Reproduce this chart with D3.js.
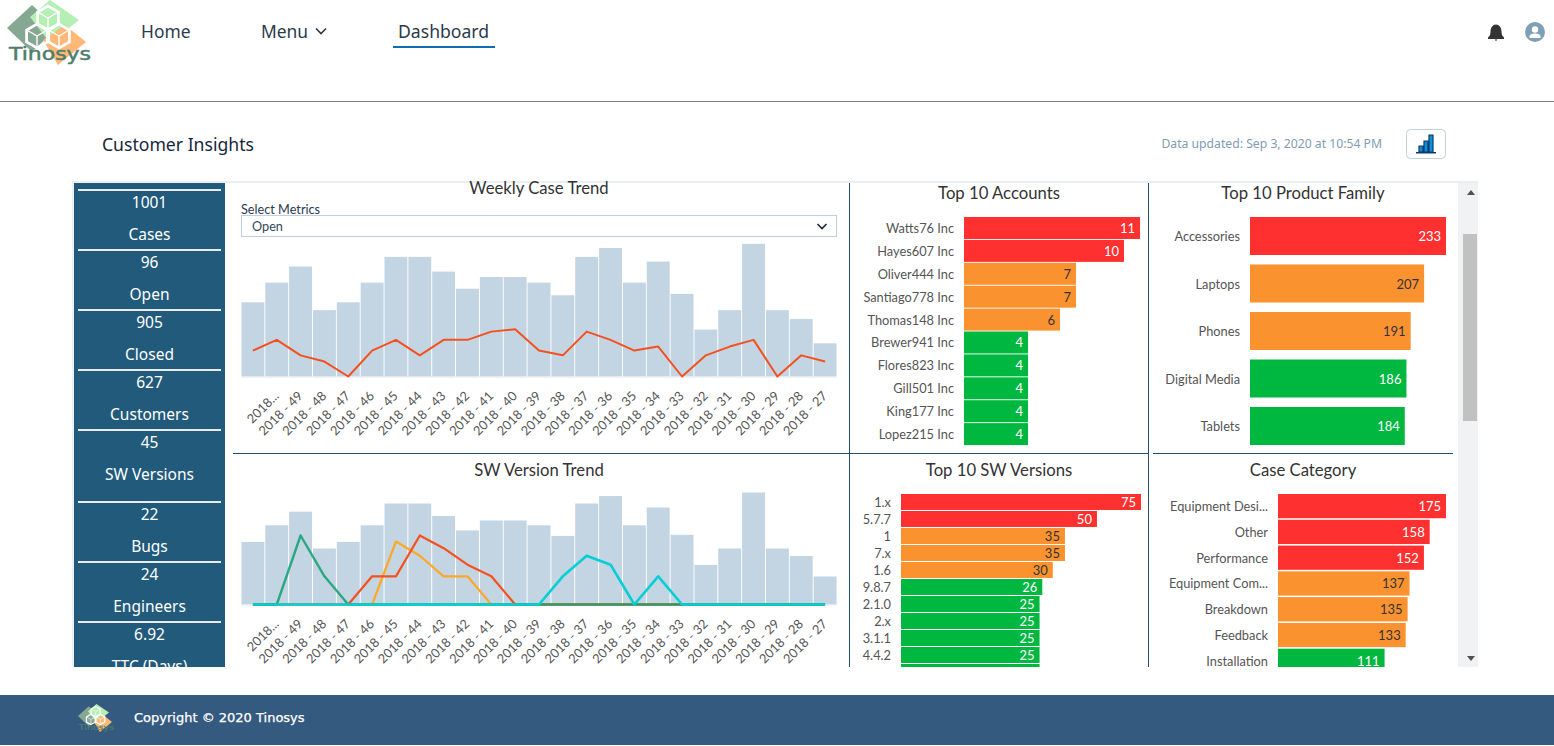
<!DOCTYPE html>
<html><head><meta charset="utf-8">
<style>
html,body{margin:0;padding:0;background:#fff;overflow:hidden}
svg{display:block}
text{font-family:Lato,"Open Sans",sans-serif}
.ui{font-family:"Noto Sans","Open Sans",sans-serif}
</style>
<script src="https://cdn.jsdelivr.net/npm/d3@7/dist/d3.min.js"></script>
</head><body>
<svg id="page" width="1554" height="746"></svg>
<script>
// ---- data ----
const weekLabels = ["","2018...","2018 - 49","2018 - 48","2018 - 47","2018 - 46","2018 - 45","2018 - 44","2018 - 43","2018 - 42","2018 - 41","2018 - 40","2018 - 39","2018 - 38","2018 - 37","2018 - 36","2018 - 35","2018 - 34","2018 - 33","2018 - 32","2018 - 31","2018 - 30","2018 - 29","2018 - 28","2018 - 27"];
const weekBars = [25,40,55,20,25,40,65,65,50,35,45,45,40,30,65,75,40,60,31,10,20,80,20,15,5];
const openLine = [3,6,2,1,0,3,6,2,6,6,9,10,3,2,9,6,3,4,0,2,4,6,0,2,1];
const swRed    = [0,0,0,0,0,1,1,6,4,2,1,0,0,0,0,0,0,0,0,0,0,0,0,0,0];
const swOrange = [0,0,0,0,0,0,5,3,1,1,0,0,0,0,0,0,0,0,0,0,0,0,0,0,0];
const swGreen  = [0,0,6,1,0,0,0,0,0,0,0,0,0,0,0,0,0,0,0,0,0,0,0,0,0];
const swCyan   = [0,0,0,0,0,0,0,0,0,0,0,0,0,1,3,2,0,1,0,0,0,0,0,0,0];
const accountNames = ["Watts76 Inc","Hayes607 Inc","Oliver444 Inc","Santiago778 Inc","Thomas148 Inc","Brewer941 Inc","Flores823 Inc","Gill501 Inc","King177 Inc","Lopez215 Inc"];
const accountValues = [11,10,7,7,6,4,4,4,4,4];
const familyNames = ["Accessories","Laptops","Phones","Digital Media","Tablets"];
const familyValues = [233,207,191,186,184];
const versionNames = ["1.x","5.7.7","1","7.x","1.6","9.8.7","2.1.0","2.x","3.1.1","4.4.2",""];
const versionValues = [75,50,35,35,30,26,25,25,25,25,25];
const categoryNames = ["Equipment Desi...","Other","Performance","Equipment Com...","Breakdown","Feedback","Installation"];
const categoryValues = [175,158,152,137,135,133,111];
const kpiValues = ["1001","96","905","627","45","22","24","6.92"];
const kpiLabels = ["Cases","Open","Closed","Customers","SW Versions","Bugs","Engineers","TTC (Days)"];

const RED="#ff3030", ORANGE="#fb9230", GREEN="#00b83f", BAR="#c3d4e3", NAVY="#215a7b", RULE="#22506e";
const svg = d3.select("#page");
const defs = svg.append("defs");
defs.append("clipPath").attr("id","panel").append("rect")
  .attr("x",72).attr("y",181).attr("width",1406).attr("height",486);

// ---- logo ----
const logo = defs.append("g").attr("id","logo");
[["#86a893","7,28 32,5 57,28 32,52"],["#b4efb4","30,17 50,0 79,20 50,43"],["#ffb877","43,40 65,25 86,42 58,65"]]
 .forEach(([c,p])=>logo.append("polygon").attr("points",p).attr("fill",c));
[[48,18],[37,36],[59,36]].forEach(([x,y])=>{
  const r=12, pts=d3.range(6).map(i=>{const a=Math.PI/3*i+Math.PI/6;return [x+r*Math.cos(a),y+r*Math.sin(a)].join(",")}).join(" ");
  logo.append("polygon").attr("points",pts).attr("fill","none").attr("stroke","#fff").attr("stroke-width",2.800);
  logo.append("path").attr("d",`M${x-r*.85},${y-r*.5}L${x},${y}L${x+r*.85},${y-r*.5}M${x},${y}V${y+r}`).attr("fill","none").attr("stroke","#fff").attr("stroke-width",1.400);
});
logo.append("text").attr("x",9).attr("y",60).attr("fill","#4e7d6c").attr("stroke","#4e7d6c").attr("stroke-width",.5).attr("font-size",18)
  .attr("textLength",82).attr("lengthAdjust","spacingAndGlyphs").style("font-family","'DejaVu Sans',sans-serif").text("Tinosys");
svg.append("use").attr("href","#logo");

// ---- header ----
function ui(x,y,t,size,fill,anchor){return svg.append("text").attr("class","ui").attr("x",x).attr("y",y).attr("font-size",size).attr("fill",fill).attr("text-anchor",anchor||"start").attr("dominant-baseline","central").text(t);}
ui(141,30.500,"Home",17.400,"#2b3a4a");
ui(261,30.500,"Menu",17.400,"#2b3a4a");
svg.append("path").attr("d","M316,28.500l5,5l5,-5").attr("fill","none").attr("stroke","#2b3a4a").attr("stroke-width",1.600);
ui(398,30.500,"Dashboard",17.600,"#2b3a4a");
svg.append("rect").attr("x",393).attr("y",46).attr("width",102).attr("height",2).attr("fill","#0b6fae");
svg.append("path").attr("fill","#333").attr("d","M1488,37.500c2,-1.500 2.500,-3 2.500,-6c0,-4 2.500,-7 5.500,-7s5.500,3 5.500,7c0,3 .5,4.500 2.500,6v1.500h-16zM1494.500,39.500h3l-1.500,1.500z");
svg.append("circle").attr("cx",1535).attr("cy",32).attr("r",10).attr("fill","#7f9fb6");
svg.append("circle").attr("cx",1535).attr("cy",29.500).attr("r",3.200).attr("fill","#fff");
svg.append("path").attr("d","M1529.500,38v-1.500c0,-2 2,-3 5.500,-3s5.500,1 5.500,3v1.500z").attr("fill","#fff");
svg.append("rect").attr("x",0).attr("y",101).attr("width",1554).attr("height",1).attr("fill","#808080");
ui(102,143.500,"Customer Insights",17.600,"#16273a");
ui(1382,143.500,"Data updated: Sep 3, 2020 at 10:54 PM",12.200,"#7f9cb3","end");
svg.append("rect").attr("x",1406.500).attr("y",129.500).attr("width",39).attr("height",29).attr("rx",4).attr("fill","#fff").attr("stroke","#bfd0df");
svg.append("path").attr("d","M1419,146h4v6h-4zM1424,141h4v11h-4zM1429,135h4v17h-4z").attr("fill","#0f8fd6").attr("stroke","#0b3a6e").attr("stroke-width",1.200);
svg.append("rect").attr("x",1416).attr("y",152).attr("width",20).attr("height",1.500).attr("fill","#0b3a6e");

// ---- dashboard frame ----
svg.append("rect").attr("x",72).attr("y",181).attr("width",1406).attr("height",2).attr("fill","#e9eef3");
svg.append("rect").attr("x",72).attr("y",181).attr("width",2).attr("height",486).attr("fill","#eef2f6");
svg.append("rect").attr("x",1458).attr("y",183).attr("width",20).attr("height",484).attr("fill","#f1f2f3");
svg.append("rect").attr("x",1463).attr("y",234).attr("width",14).attr("height",187).attr("fill","#c1c1c1");
svg.append("path").attr("d","M1467,195l4,-5l4,5z").attr("fill","#505050");
svg.append("path").attr("d","M1467,656l4,5l4,-5z").attr("fill","#505050");

const root = svg.append("g").attr("clip-path","url(#panel)");

// ---- KPI column ----
root.append("rect").attr("x",74).attr("y",183).attr("width",151).attr("height",484).attr("fill",NAVY);
const kpiY = d3.scaleOrdinal().domain(d3.range(8)).range([190,250,310,370,430,502,562,622]);
const kpi = root.selectAll("g.kpi").data(kpiValues).join("g").attr("class","kpi");
kpi.append("rect").attr("x",78).attr("width",143).attr("height",2).attr("y",(d,i)=>kpiY(i)-1).attr("fill","#e6edf2");
kpi.append("text").attr("class","ui").attr("x",149.500).attr("y",(d,i)=>kpiY(i)+11.500).attr("text-anchor","middle").attr("dominant-baseline","central").attr("font-size",15.500).attr("fill","#fff").text(d=>d);
kpi.append("text").attr("class","ui").attr("x",149.500).attr("y",(d,i)=>kpiY(i)+43.500).attr("text-anchor","middle").attr("dominant-baseline","central").attr("font-size",15.500).attr("fill","#fff").text((d,i)=>kpiLabels[i]);

// ---- dividers ----
[[849,183,1,484],[1148,183,1,484],[233,453,916,1],[1153,453,300,1]].forEach(([x,y,w,h])=>
  root.append("rect").attr("x",x).attr("y",y).attr("width",w).attr("height",h).attr("fill",RULE));

function title(x,y,t){root.append("text").attr("x",x).attr("y",y).attr("text-anchor","middle").attr("dominant-baseline","central").attr("font-size",16.700).attr("fill","#333").text(t);}
title(539,187.500,"Weekly Case Trend");
title(539,470,"SW Version Trend");
title(999,193,"Top 10 Accounts");
title(1303,193,"Top 10 Product Family");
title(999,470,"Top 10 SW Versions");
title(1303,470,"Case Category");

// ---- select ----
root.append("text").attr("x",241).attr("y",208.500).attr("dominant-baseline","central").attr("font-size",12.700).attr("fill","#2b3a55").text("Select Metrics");
root.append("rect").attr("x",241.500).attr("y",215.500).attr("width",595).attr("height",21).attr("fill","#fff").attr("stroke","#bcd0de");
root.append("text").attr("x",252).attr("y",226).attr("dominant-baseline","central").attr("font-size",12.700).attr("fill","#33475b").text("Open");
root.append("path").attr("d","M817.500,224l4.500,4.500l4.500,-4.500").attr("fill","none").attr("stroke","#16273a").attr("stroke-width",1.600);

// ---- trend charts ----
const bandX = d3.scaleBand().domain(d3.range(weekBars.length)).range([241,837]).paddingInner(0.04).paddingOuter(0.02);
const pointX = i => bandX(i)+bandX.bandwidth()/2;

function trend(baseY, barH, lineH, lineMax, labelGap, lineSeries){
  const yBar = d3.scaleSqrt().domain([0,d3.max(weekBars)]).range([baseY,baseY-barH]);
  const yLine = d3.scaleSqrt().domain([0,lineMax]).range([baseY,baseY-lineH]);
  const g = root.append("g");
  g.selectAll("rect").data(weekBars).join("rect")
    .attr("x",(d,i)=>bandX(i)).attr("width",bandX.bandwidth())
    .attr("y",d=>yBar(d)).attr("height",d=>baseY-yBar(d)).attr("fill",BAR);
  g.append("rect").attr("x",241).attr("y",baseY).attr("width",596).attr("height",1).attr("fill","#e3ebf2");
  const axis = d3.axisBottom(bandX).tickSize(0).tickFormat(i=>weekLabels[i]);
  const ax = g.append("g").attr("transform",`translate(0,${baseY+labelGap})`).call(axis);
  ax.select(".domain").remove();
  ax.selectAll("text").attr("transform","rotate(-45)").attr("text-anchor","end").attr("x",0).attr("y",4).attr("dy",0)
    .attr("font-size",12.800).attr("fill","#555").style("font-family","Lato,sans-serif");
  const line = d3.line().x((d,i)=>pointX(i)).y(d=>yLine(d));
  lineSeries.forEach(s=>{
    g.append("path").datum(s.values).attr("d",line).attr("fill","none").attr("stroke",s.color)
      .attr("stroke-width",s.width).attr("stroke-opacity",s.opacity||1).attr("stroke-linejoin","round");
  });
}
trend(376.500,132.700,47.300,10,17.500,[{values:openLine,color:"#f4511e",width:2}]);
trend(604.500,112,69,6,17.500,[
  {values:swOrange,color:"#ffa726",width:2.200},
  {values:swRed,color:"#f4511e",width:2.200},
  {values:swGreen,color:"#10a070",width:2.400,opacity:.85},
  {values:swCyan,color:"#00cfd5",width:2.600}
]);

// ---- horizontal bar panels ----
function colourFor(i,cuts){return i<cuts[0]?RED:i<cuts[1]?ORANGE:GREEN;}
function hbars(names,values,opts){
  const x = (opts.sqrt?d3.scaleSqrt():d3.scaleLinear()).domain([0,opts.max]).range([opts.x0,opts.x1]);
  const y = d3.scaleBand().domain(d3.range(names.length))
    .range([opts.y0,opts.y0+opts.step*(names.length-opts.gap)]).paddingInner(opts.gap);
  const g = root.append("g");
  const row = g.selectAll("g").data(values).join("g");
  row.append("rect").attr("x",opts.x0).attr("y",(d,i)=>y(i)).attr("height",y.bandwidth()).attr("width",d=>x(d)-opts.x0)
    .attr("fill",(d,i)=>colourFor(i,opts.cuts));
  row.append("text").attr("x",d=>x(d)-5).attr("y",(d,i)=>y(i)+y.bandwidth()/2).attr("text-anchor","end").attr("dominant-baseline","central")
    .attr("font-size",13).attr("fill",(d,i)=>i>=opts.cuts[0]&&i<opts.cuts[1]?"#333":"#fff").text(d=>d);
  row.append("text").attr("x",opts.x0-10).attr("y",(d,i)=>y(i)+y.bandwidth()/2).attr("text-anchor","end").attr("dominant-baseline","central")
    .attr("font-size",12.800).attr("fill","#555").text((d,i)=>names[i]);
}
hbars(accountNames,accountValues,{max:11,x0:964,x1:1140,y0:217,step:22.9,gap:0.04,cuts:[2,5]});
hbars(familyNames,familyValues,{max:233,x0:1250,x1:1446,y0:217,step:47.5,gap:0.2,cuts:[1,3]});
hbars(versionNames,versionValues,{sqrt:true,max:75,x0:901,x1:1141,y0:494,step:17,gap:0.06,cuts:[2,5]});
hbars(categoryNames,categoryValues,{max:175,x0:1278,x1:1446,y0:494,step:25.78,gap:0.06,cuts:[3,6]});

// ---- footer ----
svg.append("rect").attr("x",0).attr("y",695).attr("width",1554).attr("height",50).attr("fill","#355a80");
svg.append("use").attr("href","#logo").attr("transform","translate(75,704) scale(0.43)");
svg.append("text").attr("x",134).attr("y",717.500).attr("dominant-baseline","central").attr("font-size",13).attr("stroke","#fff").attr("stroke-width",.25).attr("fill","#fff").style("font-family","'DejaVu Sans',sans-serif").text("Copyright © 2020 Tinosys");
</script>
</body></html>
